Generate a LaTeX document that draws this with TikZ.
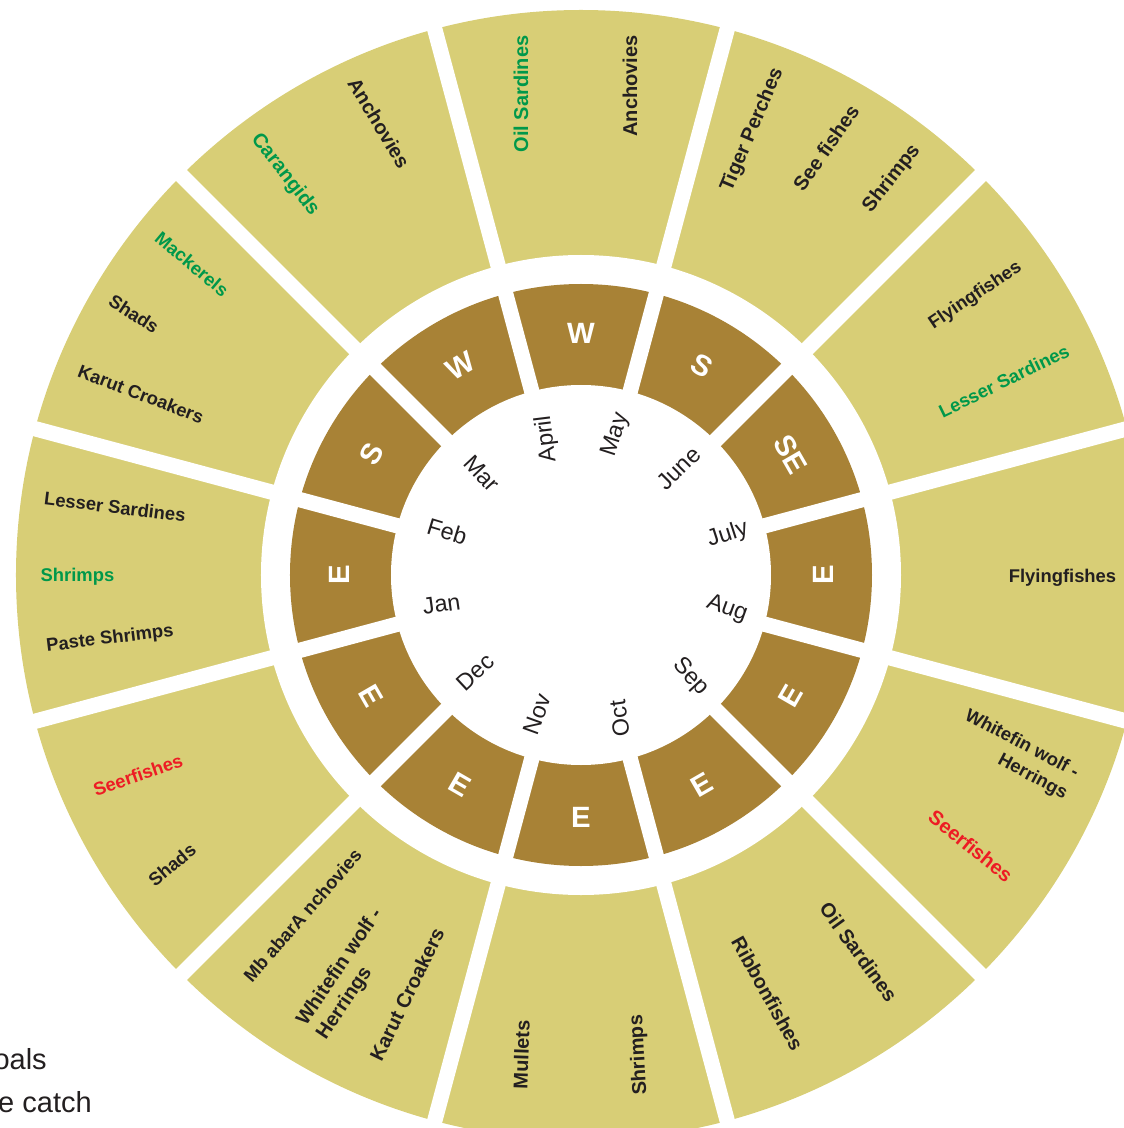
\documentclass[tikz,border=0pt]{standalone}
\usepackage{fontspec}
\setmainfont{Liberation Sans}
\definecolor{khaki}{HTML}{D8CE76}
\definecolor{umber}{HTML}{A88236}
\definecolor{leaf}{HTML}{00984A}
\definecolor{flame}{HTML}{ED1C24}
\definecolor{ink}{HTML}{231F20}

\begin{document}
\begin{tikzpicture}[
    x=0.75pt, y=0.75pt,
    fish/.style={font=\bfseries\fontsize{15}{18}\selectfont, text=ink,
                 inner sep=0pt, align=center},
    lean/.style={font=\bfseries\fontsize{13.8}{18}\selectfont},
    good/.style={fish, text=leaf},
    warn/.style={fish, text=flame},
    month/.style={font=\fontsize{17.5}{20}\selectfont, text=ink, inner sep=0pt},
    wind/.style={font=\bfseries\fontsize{22}{24}\selectfont, text=white, inner sep=0pt},
    legend/.style={font=\fontsize{21.75}{26}\selectfont, text=ink, inner sep=0pt},
    gap/.style={white, line width=11.5pt}
  ]
  \useasboundingbox (-581,-553) rectangle (543,575);

  % rings
  \fill[khaki] (0,0) circle (565);
  \fill[white] (0,0) circle (320);
  \fill[umber] (0,0) circle (291);
  \fill[white] (0,0) circle (190);
  \foreach \a in {15,45,...,345}
    \draw[gap] (\a:182) -- (\a:600);

  % wind
  \foreach \a/\w/\r [count=\i] in {90/W/0, 60/S/-30, 30/SE/-60, 0/E/90,
      -30/E/60, -60/E/30, -90/E/0, -120/E/-30, -150/E/-60, 180/E/90,
      150/S/60, 120/W/30}
    \node[wind, rotate=\r] (wind\i) at (\a:242) {\w};

  % months
  \foreach \m/\x/\y/\r in {Jan/-139.5/-29/8, Feb/-133.8/43.6/-17,
      Mar/-99.3/101.7/-47, April/-34.3/136.2/97, May/34.6/140/72,
      June/97.8/106.7/45, July/146.8/40.5/18, Aug/146/-34/-20,
      Sep/109.6/-101.9/-47, Oct/38.5/-143.2/98, Nov/-43.8/-139.4/70,
      Dec/-105.8/-97.3/43}
    \node[month, rotate=\r] (\m) at (\x,\y) {\m};

  % catch
  \node[good, rotate=90] (oilsard1) at (-60,481) {Oil Sardines};
  \node[fish, rotate=90] (anchov1) at (49,489) {Anchovies};
  \node[fish, rotate=-59] (anchov2) at (-202,452) {Anchovies};
  \node[good, rotate=-52] (carang) at (-296,400) {Carangids};
  \node[good, lean, rotate=-40] (mackerel) at (-389,311) {Mackerels};
  \node[fish, lean, rotate=-33] (shads1) at (-447,261) {Shads};
  \node[fish, lean, rotate=-21] (croaker1) at (-440,181) {Karut Croakers};
  \node[fish, lean, rotate=-7] (lesser1) at (-466,68) {Lesser Sardines};
  \node[good, lean] (shrimp1) at (-503.5,-2) {Shrimps};
  \node[fish, lean, rotate=7] (paste) at (-471,-64) {Paste Shrimps};
  \node[warn, lean, rotate=19] (seer1) at (-443,-200) {Seerfishes};
  \node[fish, lean, rotate=40] (shads2) at (-409,-290) {Shads};
  \node[fish, lean, rotate=49] (malabar) at (-278.5,-340.4) {Mb abarA nchovies};
  \node[fish, rotate=56, align=left] (wolf1) at (-231,-399) {Whitefin wolf -\\Herrings};
  \node[fish, rotate=64] (croaker2) at (-174,-419) {Karut Croakers};
  \node[fish, rotate=88] (mullet) at (-59.6,-479.6) {Mullets};
  \node[fish, rotate=93] (shrimp2) at (58,-480) {Shrimps};
  \node[fish, rotate=-61] (ribbon) at (186.6,-418.5) {Ribbonfishes};
  \node[fish, rotate=-54] (oilsard2) at (277.6,-377) {Oil Sardines};
  \node[fish, lean, rotate=-28, align=right] (wolf2) at (435,-180) {Whitefin wolf -\\Herrings};
  \node[warn, rotate=-39] (seer2) at (389.8,-271) {Seerfishes};
  \node[fish, lean] (flying1) at (481.5,-3) {Flyingfishes};
  \node[fish, lean, rotate=34] (flying2) at (394.5,279.3) {Flyingfishes};
  \node[good, lean, rotate=26] (lesser2) at (423,194) {Lesser Sardines};
  \node[fish, rotate=67] (tiger) at (171.4,444.8) {Tiger Perches};
  \node[fish, rotate=55] (seefish) at (245,427) {See fishes};
  \node[fish, rotate=52] (shrimp3) at (310.7,396.2) {Shrimps};

  % legend, cut by the page edge
  \node[legend, anchor=base east] (shoals) at (-534,-494) {oals};
  \node[legend, anchor=base east] (large) at (-489,-537) {e catch};
\end{tikzpicture}
\end{document}
